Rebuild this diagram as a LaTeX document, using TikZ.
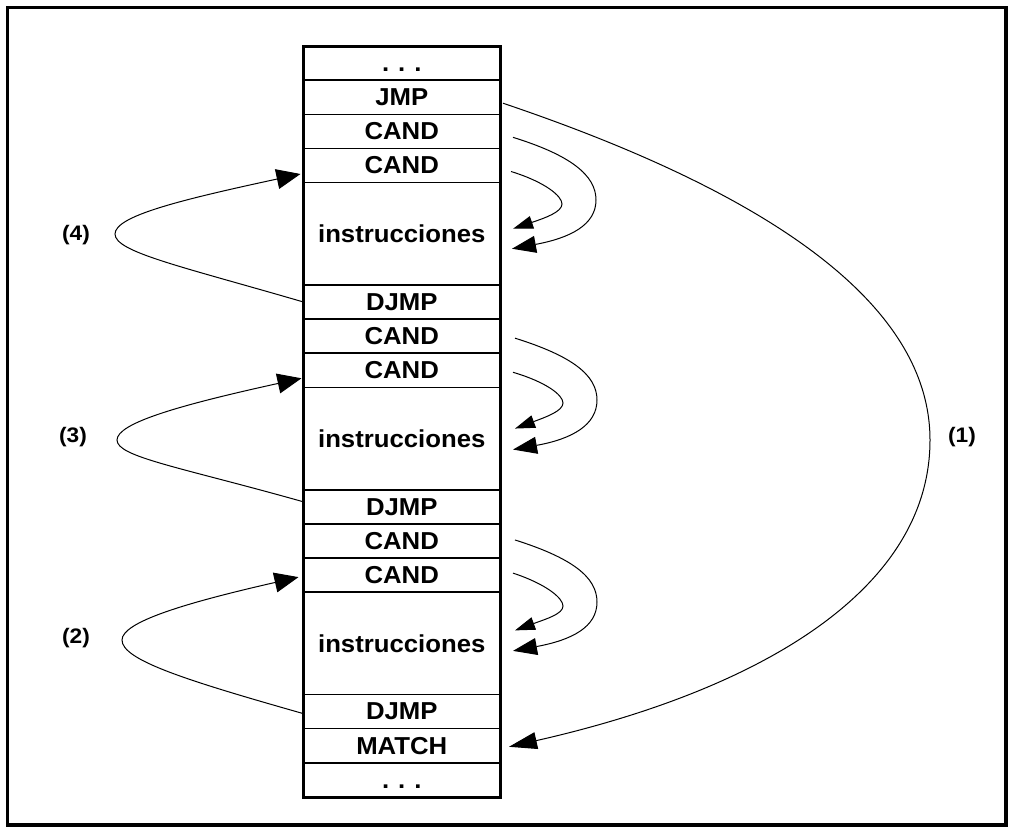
\documentclass[tikz,border=0pt]{standalone}
\usepackage{fontspec}
\setmainfont{Liberation Sans}
\usetikzlibrary{arrows.meta,calc}
\begin{document}
\begin{tikzpicture}[x=1pt,y=-1pt,
  cell/.style={draw, line width=1.5pt, minimum width=196.5pt, minimum height=34.14pt,
    inner sep=0pt, outer sep=0pt, anchor=north west,
    font=\fontsize{24.5}{28}\selectfont\bfseries\addfontfeature{FakeStretch=1.05}},
  tall/.style={cell, minimum height=102.41pt},
  link/.style={line width=1pt},
  lbl/.style={font=\fontsize{21}{24}\selectfont\bfseries\addfontfeature{FakeStretch=1.08}},
  bighead/.style={link, -{Triangle[length=24pt,width=17pt]}},
  smallhead/.style={link, -{Triangle[length=20pt,width=13pt]}},
  loophead/.style={link, -{Triangle[length=24pt,width=20pt]}},
  jmphead/.style={link, -{Triangle[length=28pt,width=17pt]}}
]
\useasboundingbox (0,0) rectangle (1012,830);
\draw[line width=3.5pt] (7.5,7.5) rectangle (1006,825);

% column cells
\node[cell] (top)   at (303.5,46)     {\vphantom{C}.\hspace{9pt}.\hspace{9pt}.};
\node[cell] (jmp)   at (303.5,80.14)  {JMP};
\node[cell] (c1a)   at (303.5,114.27) {CAND};
\node[cell] (c1b)   at (303.5,148.41) {CAND};
\node[tall] (in1)   at (303.5,182.54) {instrucciones};
\node[cell] (dj1)   at (303.5,284.95) {DJMP};
\node[cell] (c2a)   at (303.5,319.09) {CAND};
\node[cell] (c2b)   at (303.5,353.22) {CAND};
\node[tall] (in2)   at (303.5,387.36) {instrucciones};
\node[cell] (dj2)   at (303.5,489.77) {DJMP};
\node[cell] (c3a)   at (303.5,523.9)  {CAND};
\node[cell] (c3b)   at (303.5,558.04) {CAND};
\node[tall] (in3)   at (303.5,592.18) {instrucciones};
\node[cell] (dj3)   at (303.5,694.58) {DJMP};
\node[cell] (match) at (303.5,728.72) {MATCH};
\node[cell] (bot)   at (303.5,762.86) {\vphantom{C}.\hspace{9pt}.\hspace{9pt}.};
\draw[line width=3pt] (top.north west) rectangle (bot.south east);

% labels
\node[lbl] (l4) at (76,235) {(4)};
\node[lbl] (l3) at (73,437) {(3)};
\node[lbl] (l2) at (76,638) {(2)};
\node[lbl] (l1) at (962,437) {(1)};

% (1) JMP -> MATCH
\draw[jmphead] ($(jmp.east)+(3,6)$) .. controls (760,190) and (930,300) .. (930,440)
  .. controls (930,590) and (760,690) .. ($(match.east)+(9,1)$);

% group 1 CAND arrows
\draw[bighead] ($(c1a.east)+(13,6)$) .. controls (570,155) and (596,175) .. (596,200)
  .. controls (596,225) and (570,238) .. ($(in1.east)+(12,15)$);
\draw[smallhead] ($(c1b.east)+(11,6)$) .. controls (545,182) and (562,196) .. (562,204)
  .. controls (562,212) and (545,218) .. ($(in1.east)+(13,-5)$);
% group 2
\draw[bighead] ($(c2a.east)+(15,2)$) .. controls (572,356) and (597,375) .. (597,400)
  .. controls (597,425) and (572,439) .. ($(in2.east)+(13,11)$);
\draw[smallhead] ($(c2b.east)+(13,2)$) .. controls (546,382) and (563,395) .. (563,403)
  .. controls (563,411) and (546,417) .. ($(in2.east)+(15,-10)$);
% group 3
\draw[bighead] ($(c3a.east)+(15,-1)$) .. controls (572,558) and (597,577) .. (597,602)
  .. controls (597,627) and (572,640) .. ($(in3.east)+(13,7.5)$);
\draw[smallhead] ($(c3b.east)+(13,-2)$) .. controls (546,584) and (563,598) .. (563,606)
  .. controls (563,614) and (546,619) .. ($(in3.east)+(15,-13)$);

% left loops
\draw[loophead] (dj1.west) .. controls (180,266) and (115,252) .. (115,234)
  .. controls (115,216) and (180,200) .. ($(c1b.west)+(-3,8.5)$);
\draw[loophead] ($(dj2.west)+(0,-5)$) .. controls (180,467) and (117,457) .. (117,440)
  .. controls (117,423) and (180,405) .. ($(c2b.west)+(-2,8)$);
\draw[loophead] ($(dj3.west)+(0,2)$) .. controls (185,680) and (122,660) .. (122,640)
  .. controls (122,622) and (185,603) .. ($(c3b.west)+(-5,2)$);
\end{tikzpicture}
\end{document}
